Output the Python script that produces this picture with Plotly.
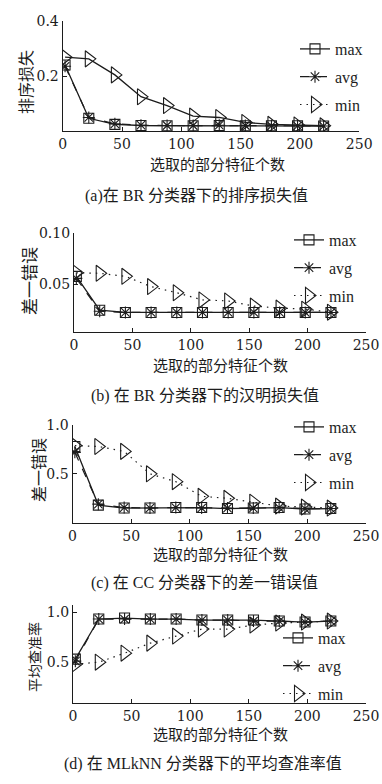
import plotly.graph_objects as go

# ---------------- data ----------------
x_feat = [2, 22, 44, 66, 88, 110, 132, 154, 176, 198, 220]

a_max = [0.24, 0.047, 0.025, 0.021, 0.020, 0.020, 0.021, 0.020, 0.020, 0.020, 0.019]
a_avg = [0.235, 0.050, 0.027, 0.022, 0.021, 0.021, 0.022, 0.021, 0.020, 0.020, 0.019]
a_min = [0.268, 0.262, 0.204, 0.125, 0.093, 0.055, 0.050, 0.032, 0.025, 0.023, 0.020]

b_max = [0.058, 0.025, 0.0228, 0.0228, 0.0228, 0.0228, 0.0228, 0.0228, 0.0228, 0.0228, 0.0228]
b_avg = [0.056, 0.024, 0.0228, 0.0228, 0.0228, 0.0228, 0.0228, 0.0228, 0.0228, 0.0228, 0.0228]
b_min = [0.0615, 0.061, 0.058, 0.048, 0.042, 0.035, 0.034, 0.029, 0.027, 0.026, 0.023]

c_max = [0.78, 0.18, 0.15, 0.15, 0.155, 0.155, 0.145, 0.15, 0.155, 0.14, 0.145]
c_avg = [0.72, 0.19, 0.155, 0.15, 0.155, 0.15, 0.15, 0.15, 0.155, 0.145, 0.145]
c_min = [0.79, 0.78, 0.73, 0.50, 0.42, 0.27, 0.25, 0.21, 0.17, 0.16, 0.15]

d_max = [0.53, 0.93, 0.94, 0.93, 0.93, 0.92, 0.92, 0.92, 0.91, 0.90, 0.91]
d_avg = [0.51, 0.93, 0.93, 0.93, 0.93, 0.92, 0.92, 0.91, 0.91, 0.90, 0.91]
d_min = [0.48, 0.50, 0.59, 0.69, 0.76, 0.83, 0.83, 0.87, 0.89, 0.90, 0.91]

x_ticks = [0, 50, 100, 150, 200, 250]
series_names = ["max", "avg", "min"]

panels = [
    dict(ymax=a_max, yavg=a_avg, ymin=a_min, yticks=[0.2, 0.4], ytext=["0.2", "0.4"],
         yrange=[0, 0.4], ytitle="排序损失", min_dash="solid",
         caption="(a)在 BR 分类器下的排序损失值"),
    dict(ymax=b_max, yavg=b_avg, ymin=b_min, yticks=[0.05, 0.10], ytext=["0.05", "0.10"],
         yrange=[0.004, 0.1], ytitle="差一错误", min_dash="dotted",
         caption="(b) 在 BR 分类器下的汉明损失值"),
    dict(ymax=c_max, yavg=c_avg, ymin=c_min, yticks=[0.5, 1.0], ytext=["0.5", "1.0"],
         yrange=[0, 1.0], ytitle="差一错误", min_dash="dotted",
         caption="(c) 在 CC 分类器下的差一错误值"),
    dict(ymax=d_max, yavg=d_avg, ymin=d_min, yticks=[0.5, 1.0], ytext=["0.5", "1.0"],
         yrange=[0.09, 1.07], ytitle="平均查准率", min_dash="dotted",
         caption="(d) 在 MLkNN 分类器下的平均查准率值"),
]

# ---------------- layout geometry (pixels) ----------------
W, H = 382, 784
geom = [
    dict(x0=62.7, x1=359.2, ytop=20.7, ybot=131.3, ytx=25, yty=82, ytsize=16,
         xtx=217, xty=164, capx=197, capy=196, legx=295, legy=32),
    dict(x0=74, x1=366, ytop=233.3, ybot=331.7, ytx=28, yty=281, ytsize=17,
         xtx=220, xty=364, capx=205, capy=396, legx=289, legy=223),
    dict(x0=72.5, x1=366, ytop=425, ybot=522.7, ytx=38, yty=470, ytsize=16,
         xtx=220, xty=553, capx=204, capy=583, legx=289, legy=410),
    dict(x0=73, x1=366, ytop=605, ybot=703.3, ytx=34, yty=657, ytsize=14,
         xtx=220, xty=733, capx=203, capy=764, legx=278, legy=621),
]

def px(x):
    return x / W

def py(y):
    return 1 - y / H

INK = "#1c1c1c"
TICKFONT = dict(family="DejaVu Serif", size=14, color=INK)
CJK = "Noto Sans CJK SC"
DOTTED = "1.5px,5px"

fig = go.Figure()
annotations = []
layout_axes = {}

for i, (p, g) in enumerate(zip(panels, geom)):
    n = i + 1
    xa = "x" if n == 1 else f"x{n}"
    ya = "y" if n == 1 else f"y{n}"
    leg = "legend" if n == 1 else f"legend{n}"

    styles = [
        (p["ymax"], "max", "square-open", 10, "solid"),
        (p["yavg"], "avg", "asterisk-open", 10, "dash"),
        (p["ymin"], "min", "triangle-right-open", 14, p["min_dash"]),
    ]
    for yvals, name, sym, ms, dash in styles:
        show_leg = not (name == "min" and dash == "solid")
        real_dash = DOTTED if dash == "dotted" else dash
        fig.add_trace(go.Scatter(
            x=x_feat, y=yvals, name=name, mode="lines+markers",
            xaxis=xa, yaxis=ya, legend=leg, legendgroup=f"{name}{n}",
            showlegend=show_leg,
            line=dict(color=INK, width=1.3 if dash == "solid" else 1.2, dash=real_dash),
            marker=dict(symbol=sym, size=ms, color=INK, line=dict(color=INK, width=1.1)),
        ))
        if not show_leg:
            # legend key drawn in the dotted style used in the original key
            fig.add_trace(go.Scatter(
                x=[None], y=[None], name=name, mode="lines+markers",
                xaxis=xa, yaxis=ya, legend=leg, legendgroup=f"{name}{n}",
                line=dict(color=INK, width=1.2, dash=DOTTED),
                marker=dict(symbol=sym, size=ms, color=INK, line=dict(color=INK, width=1.1)),
            ))

    axis_common = dict(showline=True, linecolor=INK, linewidth=1.3, ticks="inside",
                       ticklen=4, tickcolor=INK, showgrid=False, zeroline=False,
                       tickfont=TICKFONT, automargin=False)
    xkey = "xaxis" if n == 1 else f"xaxis{n}"
    ykey = "yaxis" if n == 1 else f"yaxis{n}"
    layout_axes[xkey] = dict(domain=[px(g["x0"]), px(g["x1"])], range=[0, 250],
                             anchor=ya, tickvals=x_ticks, **axis_common)
    layout_axes[ykey] = dict(domain=[py(g["ybot"]), py(g["ytop"])], range=p["yrange"],
                             anchor=xa, tickvals=p["yticks"], ticktext=p["ytext"],
                             **axis_common)

    layout_axes[leg] = dict(x=px(g["legx"]), y=py(g["legy"]), xanchor="left", yanchor="top",
                            bgcolor="rgba(0,0,0,0)", borderwidth=0, tracegroupgap=4,
                            itemwidth=30,
                            font=dict(family="Liberation Serif", size=16, color=INK))

    common_ann = dict(xref="paper", yref="paper", showarrow=False,
                      xanchor="center", yanchor="middle")
    annotations.append(dict(text=p["ytitle"], x=px(g["ytx"]), y=py(g["yty"]), textangle=-90,
                            font=dict(family=CJK, size=g["ytsize"], color=INK), **common_ann))
    annotations.append(dict(text="选取的部分特征个数", x=px(g["xtx"]), y=py(g["xty"]),
                            font=dict(family=CJK, size=15, color=INK), **common_ann))
    annotations.append(dict(text=p["caption"], x=px(g["capx"]), y=py(g["capy"]),
                            font=dict(family="Liberation Serif, " + CJK, size=16, color=INK),
                            **common_ann))

fig.update_layout(
    width=W, height=H, margin=dict(l=0, r=0, t=0, b=0, autoexpand=False),
    paper_bgcolor="white", plot_bgcolor="white",
    annotations=annotations,
    **layout_axes,
)

fig.write_html("out.html", config={"displayModeBar": False},
               post_script="document.body.style.margin='0';")
